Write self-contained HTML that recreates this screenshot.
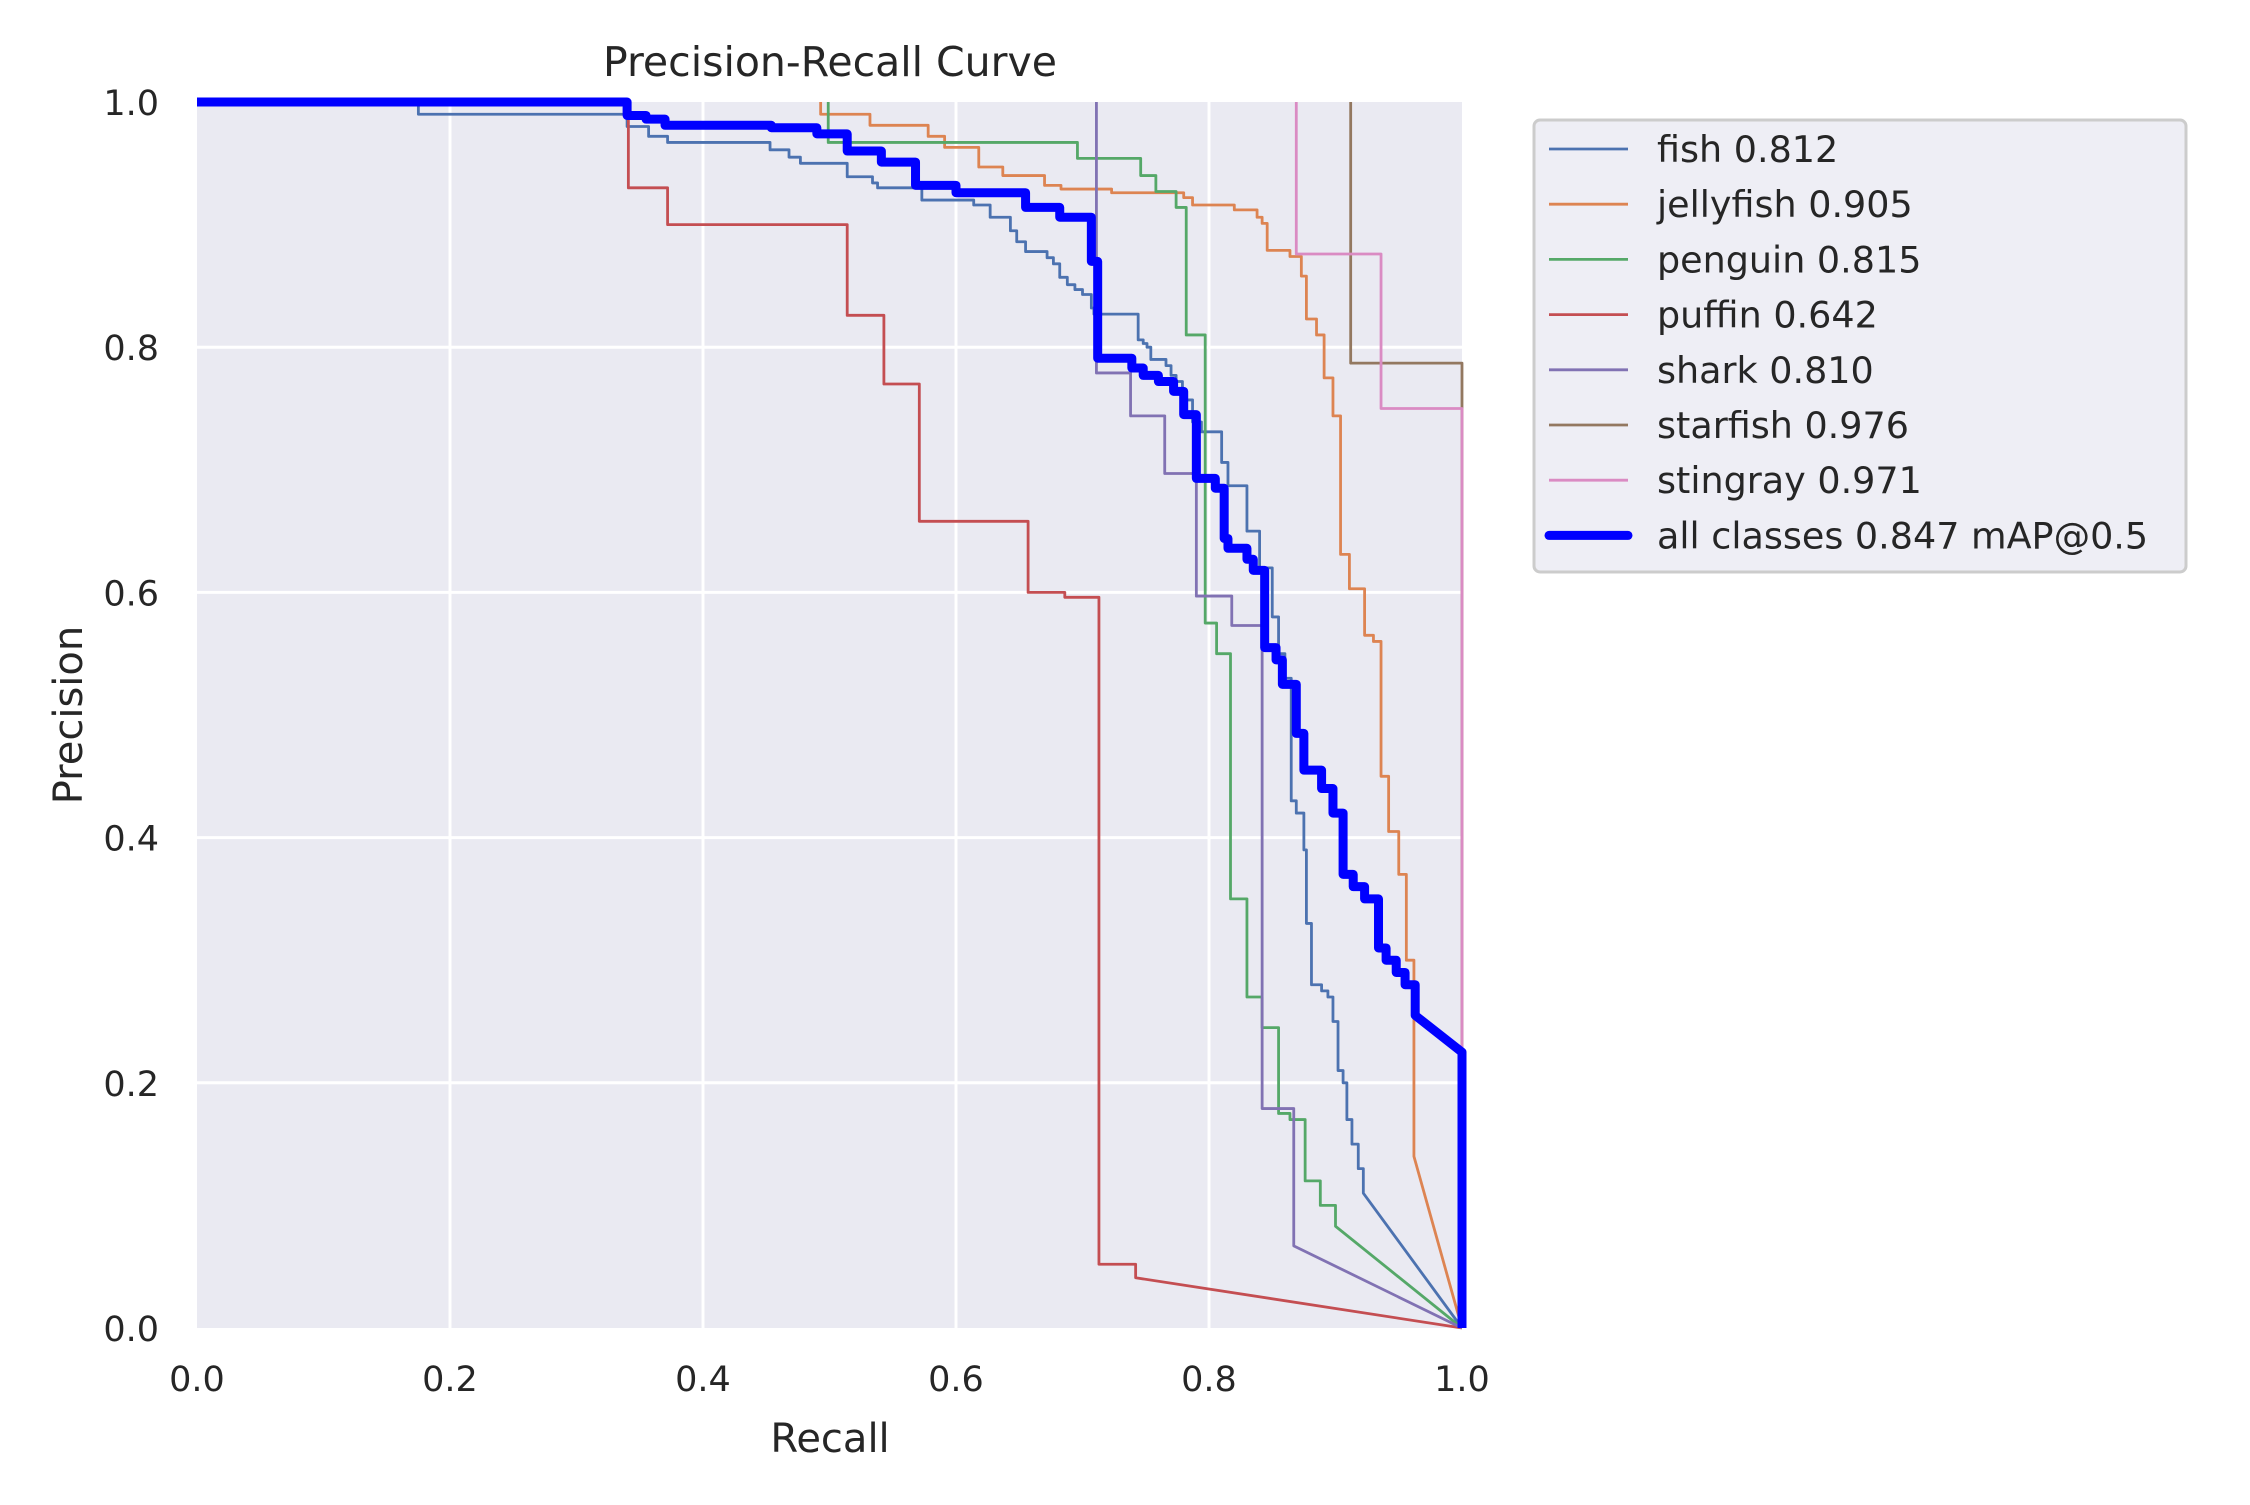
<!DOCTYPE html>
<html><head><meta charset="utf-8"><style>
html,body{margin:0;padding:0;background:#fff;}
svg text{font-family:"DejaVu Sans","Liberation Sans",sans-serif;fill:#262626;}
</style></head><body>
<svg id="chart" width="2250" height="1500" viewBox="0 0 2250 1500" xmlns="http://www.w3.org/2000/svg">
<rect x="0" y="0" width="2250" height="1500" fill="#fff"/>
<rect x="197" y="102" width="1265" height="1226" fill="#eaeaf2"/>
<g id="grid"></g>
<g id="ticks"></g>
<defs><clipPath id="clip"><rect x="190" y="95" width="1280" height="1240"/></clipPath></defs>
<g id="series" clip-path="url(#clip)"></g>
<text x="830" y="76" text-anchor="middle" font-size="41">Precision-Recall Curve</text>
<text x="830" y="1452" text-anchor="middle" font-size="40">Recall</text>
<text x="0" y="0" transform="translate(82,715) rotate(-90)" text-anchor="middle" font-size="40">Precision</text>
<rect x="1534" y="120" width="652" height="452" rx="6" fill="#eaeaf2" fill-opacity="0.8" stroke="#cccccc" stroke-width="3"/>
<g id="legend"></g>
</svg>
<script>
const names = ["fish 0.812","jellyfish 0.905","penguin 0.815","puffin 0.642","shark 0.810","starfish 0.976","stingray 0.971","all classes 0.847 mAP@0.5"];
const colors = ["#4c72b0","#dd8452","#55a868","#c44e52","#8172b3","#937860","#da8bc3","#0000ff"];
const ticks = [0,0.2,0.4,0.6,0.8,1.0];
const tickLabels = ["0.0","0.2","0.4","0.6","0.8","1.0"];

const fishX = [0,0.175,0.34,0.357,0.372,0.453,0.468,0.477,0.514,0.534,0.538,0.573,0.614,0.627,0.643,0.648,0.655,0.672,0.677,0.682,0.688,0.694,0.7,0.707,0.709,0.744,0.748,0.751,0.754,0.766,0.77,0.774,0.779,0.787,0.794,0.81,0.815,0.83,0.84,0.85,0.855,0.86,0.865,0.869,0.875,0.877,0.881,0.889,0.894,0.898,0.902,0.906,0.909,0.913,0.918,0.922];
const fishY = [1.0,0.99,0.98,0.972,0.967,0.961,0.955,0.95,0.939,0.934,0.93,0.92,0.916,0.906,0.895,0.886,0.878,0.873,0.868,0.857,0.851,0.847,0.843,0.832,0.827,0.806,0.803,0.80,0.79,0.785,0.777,0.772,0.757,0.739,0.731,0.706,0.687,0.65,0.62,0.58,0.55,0.53,0.43,0.42,0.39,0.33,0.28,0.275,0.27,0.25,0.21,0.2,0.17,0.15,0.13,0.11];
const fishTailX = [1.0], fishTailY = [0.0];

const jellyX = [0.493,0.493,0.532,0.578,0.591,0.618,0.637,0.67,0.683,0.723,0.78,0.787,0.82,0.838,0.842,0.846,0.864,0.873,0.877,0.885,0.891,0.898,0.904,0.911,0.923,0.93,0.936,0.942,0.95,0.956,0.962];
const jellyY = [1.0,0.99,0.981,0.972,0.963,0.947,0.94,0.932,0.929,0.926,0.922,0.916,0.912,0.906,0.901,0.879,0.874,0.858,0.823,0.81,0.775,0.744,0.631,0.603,0.565,0.56,0.45,0.405,0.37,0.3,0.14];
const jellyTailX = [1.0], jellyTailY = [0.0];

const pengX = [0.499,0.499,0.696,0.746,0.758,0.774,0.782,0.797,0.806,0.817,0.83,0.842,0.855,0.864,0.876,0.888,0.9];
const pengY = [1.0,0.967,0.954,0.94,0.927,0.914,0.81,0.575,0.55,0.35,0.27,0.245,0.175,0.17,0.12,0.1,0.083];
const pengTailX = [1.0], pengTailY = [0.0];

const puffX = [0.341,0.341,0.372,0.514,0.543,0.571,0.657,0.686,0.713,0.742];
const puffY = [1.0,0.93,0.9,0.826,0.77,0.658,0.6,0.596,0.052,0.041];
const puffTailX = [1.0], puffTailY = [0.0];

const sharkX = [0.711,0.711,0.738,0.765,0.79,0.818,0.842,0.867];
const sharkY = [1.0,0.779,0.744,0.697,0.597,0.573,0.179,0.067];
const sharkTailX = [1.0], sharkTailY = [0.0];

const starX = [0.912,0.912];
const starY = [1.0,0.787];
const starTailX = [1.0,1.0], starTailY = [0.787,0.0];

const stingX = [0.869,0.869,0.936];
const stingY = [1.0,0.876,0.75];
const stingTailX = [1.0,1.0], stingTailY = [0.75,0.0];

const allX = [0,0.34,0.355,0.37,0.454,0.49,0.514,0.541,0.568,0.6,0.655,0.682,0.707,0.712,0.739,0.748,0.76,0.772,0.78,0.79,0.805,0.812,0.815,0.83,0.835,0.844,0.853,0.858,0.869,0.875,0.889,0.898,0.906,0.914,0.923,0.934,0.94,0.948,0.955,0.963];
const allY = [1.0,0.989,0.986,0.981,0.979,0.974,0.96,0.951,0.932,0.926,0.914,0.906,0.87,0.791,0.783,0.777,0.772,0.764,0.745,0.693,0.685,0.644,0.636,0.627,0.618,0.555,0.545,0.525,0.485,0.455,0.44,0.42,0.37,0.36,0.35,0.31,0.3,0.29,0.28,0.255];
const allTailX = [1.0,1.0], allTailY = [0.225,0.0];

const L=197,T=102,W=1265,H=1226;
function sx(v){return L+v*W;}
function sy(v){return T+(1-v)*H;}
const NS="http://www.w3.org/2000/svg";
const grid=document.getElementById('grid');
const tk=document.getElementById('ticks');
ticks.forEach((t,i)=>{
  if(t>0&&t<1){
    const v=document.createElementNS(NS,'line');
    v.setAttribute('x1',sx(t));v.setAttribute('x2',sx(t));v.setAttribute('y1',T);v.setAttribute('y2',T+H);
    v.setAttribute('stroke','#fff');v.setAttribute('stroke-width','3');
    
    
    grid.appendChild(v);
    const h=document.createElementNS(NS,'line');
    h.setAttribute('y1',sy(t));h.setAttribute('y2',sy(t));h.setAttribute('x1',L);h.setAttribute('x2',L+W);
    h.setAttribute('stroke','#fff');h.setAttribute('stroke-width','3');
    
    
    grid.appendChild(h);
  }
  const xl=document.createElementNS(NS,'text');
  xl.setAttribute('x',sx(t));xl.setAttribute('y',1391);xl.setAttribute('text-anchor','middle');xl.setAttribute('font-size','35');
  xl.textContent=tickLabels[i];
  
  
  tk.appendChild(xl);
  const yl=document.createElementNS(NS,'text');
  yl.setAttribute('x',159);yl.setAttribute('y',sy(t)+13);yl.setAttribute('text-anchor','end');yl.setAttribute('font-size','35');
  yl.textContent=tickLabels[i];
  
  
  tk.appendChild(yl);
});
const seriesData=[[fishX,fishY,fishTailX,fishTailY],[jellyX,jellyY,jellyTailX,jellyTailY],[pengX,pengY,pengTailX,pengTailY],[puffX,puffY,puffTailX,puffTailY],[sharkX,sharkY,sharkTailX,sharkTailY],[starX,starY,starTailX,starTailY],[stingX,stingY,stingTailX,stingTailY],[allX,allY,allTailX,allTailY]];
const sg=document.getElementById('series');
const lg=document.getElementById('legend');
seriesData.forEach((s,k)=>{
  const [xs,ys,tx,ty]=s;
  let d='M'+sx(xs[0])+','+sy(ys[0]);
  for(let i=1;i<xs.length;i++){
    d+=' L'+sx(xs[i])+','+sy(ys[i-1])+' L'+sx(xs[i])+','+sy(ys[i]);
  }
  for(let j=0;j<tx.length;j++){d+=' L'+sx(tx[j])+','+sy(ty[j]);}
  const p=document.createElementNS(NS,'path');
  p.setAttribute('d',d);p.setAttribute('fill','none');p.setAttribute('stroke',colors[k]);
  p.setAttribute('stroke-width',k===7?'9':'2.8');p.setAttribute('stroke-linejoin','round');
  
  
  sg.appendChild(p);
  const cy=149+k*55.2;
  const ll=document.createElementNS(NS,'line');
  ll.setAttribute('x1',1549);ll.setAttribute('x2',1628);ll.setAttribute('y1',cy);ll.setAttribute('y2',cy);
  ll.setAttribute('stroke',colors[k]);ll.setAttribute('stroke-width',k===7?'9':'2.8');ll.setAttribute('stroke-linecap',k===7?'round':'butt');
  
  
  lg.appendChild(ll);
  const lt=document.createElementNS(NS,'text');
  lt.setAttribute('x',1657);lt.setAttribute('y',cy+13);lt.setAttribute('font-size','36.5');
  lt.textContent=names[k];
  
  
  lg.appendChild(lt);
});
</script>
</body></html>
